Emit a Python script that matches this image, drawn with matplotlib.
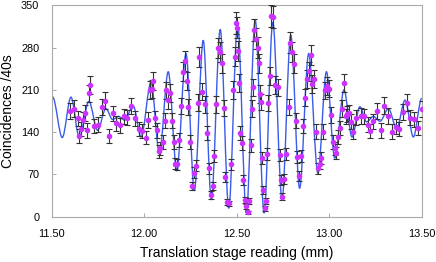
import numpy as np
import matplotlib
matplotlib.use("Agg")
import matplotlib.pyplot as plt
from matplotlib.path import Path
from matplotlib.patches import PathPatch

plt.rcParams['font.family'] = ['Liberation Sans', 'DejaVu Sans']

# measured coincidences (counts per 40 s) vs stage position (mm)
pos_mm = [11.599, 11.621, 11.640, 11.649, 11.658, 11.667, 11.678, 11.689, 11.700, 11.709,
          11.729, 11.748, 11.770, 11.788, 11.810, 11.830, 11.849, 11.869, 11.889, 11.905,
          11.929, 11.950, 11.970, 11.988, 12.010, 12.019, 12.031, 12.042, 12.049, 12.060,
          12.069, 12.082, 12.087, 12.100, 12.111, 12.118, 12.130, 12.139, 12.150, 12.159,
          12.168, 12.177, 12.190, 12.201, 12.210, 12.220, 12.230, 12.239, 12.249, 12.260,
          12.269, 12.280, 12.289, 12.298, 12.315, 12.330, 12.339, 12.348, 12.361, 12.370,
          12.379, 12.390, 12.399, 12.410, 12.420, 12.430, 12.439, 12.449, 12.457, 12.469,
          12.480, 12.489, 12.494, 12.500, 12.505, 12.514, 12.520, 12.527, 12.532, 12.543,
          12.552, 12.559, 12.568, 12.577, 12.583, 12.590, 12.595, 12.604, 12.613, 12.619,
          12.628, 12.633, 12.637, 12.644, 12.651, 12.658, 12.666, 12.671, 12.678, 12.687,
          12.696, 12.709, 12.721, 12.732, 12.739, 12.747, 12.757, 12.768, 12.781, 12.790,
          12.799, 12.810, 12.819, 12.828, 12.839, 12.849, 12.860, 12.869, 12.880, 12.889,
          12.900, 12.909, 12.920, 12.929, 12.939, 12.948, 12.957, 12.968, 12.977, 12.988,
          12.999, 13.008, 13.019, 13.030, 13.039, 13.049, 13.058, 13.069, 13.078, 13.089,
          13.098, 13.109, 13.120, 13.130, 13.146, 13.170, 13.188, 13.208, 13.221, 13.239,
          13.260, 13.280, 13.298, 13.320, 13.338, 13.359, 13.379, 13.401, 13.419, 13.438,
          13.458, 13.478, 13.500]
counts = [175, 179, 163, 134, 145, 160, 172, 143, 204, 218,
          150, 152, 181, 192, 134, 171, 155, 151, 166, 164,
          183, 163, 145, 142, 131, 160, 210, 211, 225, 163,
          143, 108, 113, 124, 159, 209, 193, 205, 159, 124,
          88, 87, 127, 183, 240, 258, 225, 182, 124, 51,
          73, 84, 189, 264, 207, 186, 139, 80, 36, 51,
          100, 186, 279, 272, 254, 180, 66, 25, 22, 87,
          210, 265, 321, 313, 275, 221, 138, 122, 61, 28,
          17, 7, 26, 118, 179, 214, 309, 295, 280, 254,
          203, 190, 97, 44, 14, 26, 104, 188, 233, 332,
          330, 218, 214, 102, 61, 33, 62, 104, 182, 288,
          273, 253, 159, 99, 68, 100, 150, 197, 228, 241,
          268, 220, 228, 141, 80, 88, 97, 141, 209, 216,
          212, 168, 124, 113, 105, 132, 147, 179, 222, 166,
          170, 172, 157, 141, 164, 167, 166, 152, 142, 158,
          175, 143, 184, 167, 141, 149, 145, 173, 189, 164,
          161, 147, 178]
# Poisson error bars
count_err = np.sqrt(counts)

# fitted fringe curve: positions and values of its maxima / minima
fit_x = [11.505, 11.557, 11.604, 11.649, 11.701, 11.748, 11.793, 11.829, 11.862, 11.893,
         11.941, 11.983, 12.037, 12.082, 12.130, 12.176, 12.226, 12.271, 12.319, 12.363,
         12.411, 12.457, 12.505, 12.552, 12.600, 12.648, 12.695, 12.745, 12.792, 12.840,
         12.889, 12.939, 12.985, 13.030, 13.080, 13.123, 13.166, 13.202, 13.239, 13.275,
         13.320, 13.365, 13.410, 13.455, 13.500]
fit_y = [198, 131, 198, 132, 191, 143, 179, 161, 166, 160,
         183, 132, 223, 105, 240, 76, 270, 43, 292, 28,
         310, 14, 320, 6, 326, 6, 322, 28, 301, 47,
         270, 72, 240, 97, 210, 132, 182, 157, 166, 158,
         179, 146, 193, 132, 196]

fig = plt.figure(figsize=(4.36, 2.62), dpi=100)
ax = fig.add_axes([0.1186, 0.1729, 0.8486, 0.8069])

# smooth curve through the extrema (flat tangents at each extremum)
verts = [(fit_x[0], fit_y[0])]
codes = [Path.MOVETO]
for k in range(len(fit_x) - 1):
    x0, y0, x1, y1 = fit_x[k], fit_y[k], fit_x[k + 1], fit_y[k + 1]
    dx = x1 - x0
    verts += [(x0 + dx / 3, y0), (x1 - dx / 3, y1), (x1, y1)]
    codes += [Path.CURVE4] * 3
ax.add_patch(PathPatch(Path(verts, codes), fill=False, edgecolor='#3b5bea', lw=1.0, zorder=2))

ax.errorbar(pos_mm, counts, yerr=count_err, fmt='none', ecolor='#333333',
            elinewidth=0.8, capsize=2, capthick=0.8, zorder=3)
ax.plot(pos_mm, counts, 'o', color='#cc33ff', ms=3.0, mec='#cc33ff', zorder=4)

ax.set_xlim(11.5, 13.5)
ax.set_ylim(0, 350)
ax.set_xticks([11.5, 12.0, 12.5, 13.0, 13.5])
ax.set_xticklabels(['11.50', '12.00', '12.50', '13.00', '13.50'])
ax.set_yticks([0, 70, 140, 210, 280, 350])
ax.tick_params(direction='in', length=3, width=0.6, color='#999999',
               labelsize=7.8, pad=9)
for s in ax.spines.values():
    s.set_color('#aaaaaa')
    s.set_linewidth(0.8)

ax.set_xlabel('Translation stage reading (mm)', fontsize=10)
ax.set_ylabel('Coincidences /40s', fontsize=10)
ax.xaxis.set_label_coords(0.5, -0.14)
ax.yaxis.set_label_coords(-0.098, 0.5)

plt.savefig('out.png', dpi=100)
